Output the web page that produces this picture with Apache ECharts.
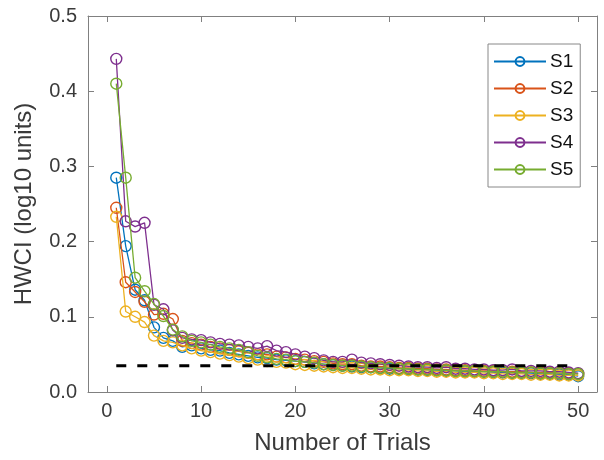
<!DOCTYPE html>
<html>
<head>
<meta charset="utf-8">
<script src="https://cdn.jsdelivr.net/npm/echarts@6/dist/echarts.min.js"></script>
<style>
  html, body { margin: 0; padding: 0; background: #fff; }
  #chart-container { width: 604px; height: 460px; }
</style>
</head>
<body>
<div id="chart-container"></div>
<script>
// Trials 1..50
const trials = Array.from({ length: 50 }, (_, i) => i + 1);

// HWCI values (log10 units)
const s1 = [0.285, 0.194, 0.136, 0.122, 0.086, 0.072, 0.068, 0.060, 0.062, 0.058,
  0.056, 0.055, 0.052, 0.050, 0.048, 0.046, 0.045, 0.043, 0.042, 0.041,
  0.040, 0.038, 0.037, 0.036, 0.035, 0.034, 0.033, 0.033, 0.032, 0.031,
  0.031, 0.030, 0.030, 0.029, 0.029, 0.028, 0.028, 0.027, 0.027, 0.027,
  0.026, 0.026, 0.025, 0.025, 0.025, 0.024, 0.024, 0.023, 0.023, 0.021];
const s2 = [0.245, 0.146, 0.133, 0.120, 0.103, 0.104, 0.097, 0.068, 0.065, 0.063,
  0.060, 0.058, 0.056, 0.054, 0.052, 0.050, 0.050, 0.047, 0.046, 0.044,
  0.043, 0.041, 0.040, 0.038, 0.037, 0.037, 0.035, 0.034, 0.034, 0.033,
  0.032, 0.032, 0.031, 0.031, 0.030, 0.030, 0.029, 0.029, 0.028, 0.028,
  0.028, 0.027, 0.027, 0.027, 0.026, 0.026, 0.026, 0.025, 0.025, 0.024];
const s3 = [0.233, 0.107, 0.100, 0.093, 0.075, 0.068, 0.066, 0.062, 0.058, 0.055,
  0.053, 0.051, 0.049, 0.047, 0.045, 0.043, 0.041, 0.040, 0.039, 0.037,
  0.036, 0.035, 0.034, 0.033, 0.032, 0.032, 0.031, 0.030, 0.030, 0.029,
  0.029, 0.029, 0.028, 0.028, 0.027, 0.027, 0.026, 0.026, 0.026, 0.025,
  0.025, 0.024, 0.024, 0.024, 0.023, 0.023, 0.023, 0.022, 0.022, 0.022];
const s4 = [0.443, 0.227, 0.220, 0.225, 0.116, 0.110, 0.082, 0.072, 0.070, 0.069,
  0.066, 0.064, 0.063, 0.062, 0.060, 0.058, 0.061, 0.055, 0.053, 0.050,
  0.047, 0.045, 0.042, 0.040, 0.040, 0.043, 0.039, 0.038, 0.037, 0.036,
  0.035, 0.034, 0.033, 0.033, 0.032, 0.033, 0.031, 0.031, 0.030, 0.030,
  0.029, 0.029, 0.030, 0.028, 0.028, 0.028, 0.027, 0.027, 0.026, 0.025];
const s5 = [0.410, 0.285, 0.152, 0.134, 0.117, 0.101, 0.083, 0.074, 0.068, 0.066,
  0.063, 0.060, 0.058, 0.056, 0.053, 0.048, 0.046, 0.044, 0.043, 0.041,
  0.040, 0.039, 0.037, 0.036, 0.035, 0.035, 0.034, 0.033, 0.032, 0.032,
  0.031, 0.031, 0.030, 0.030, 0.029, 0.029, 0.028, 0.028, 0.028, 0.027,
  0.027, 0.027, 0.026, 0.026, 0.026, 0.025, 0.025, 0.025, 0.024, 0.024];

// Reference level (black dashed line)
const refX = [1, 50];
const refY = [0.035, 0.035];

const seriesNames = ["S1", "S2", "S3", "S4", "S5"];
const seriesValues = [s1, s2, s3, s4, s5];
const colors = ["#0072BD", "#D95319", "#EDB120", "#7E2F8E", "#77AC30"];

const xTicks = [0, 10, 20, 30, 40, 50];
const axisColor = "#3a3a3a";
const lineColor = "#808080";
const fontFamily = "Liberation Sans, Arial, sans-serif";

const chart = echarts.init(document.getElementById("chart-container"), null, { renderer: "canvas" });

const series = seriesNames.map((name, k) => ({
  name: name,
  type: "line",
  data: trials.map((t, i) => [t, seriesValues[k][i]]),
  symbol: "circle",
  symbolSize: 11,
  showSymbol: true,
  lineStyle: { color: colors[k], width: 1.3 },
  itemStyle: { color: "rgba(255,255,255,0)", borderColor: colors[k], borderWidth: 1.4 },
  emphasis: { disabled: true },
  animation: false,
  z: 2 + k,
}));

series.push({
  name: "ref",
  type: "line",
  data: refX.map((x, i) => [x, refY[i]]),
  symbol: "none",
  lineStyle: { color: "#000", width: 3, type: [10, 11] },
  emphasis: { disabled: true },
  animation: false,
  z: 10,
});

const option = {
  backgroundColor: "#fff",
  animation: false,
  grid: { left: 88, right: 7, top: 16, bottom: 65, containLabel: false },
  legend: {
    data: seriesNames,
    orient: "vertical",
    left: 488,
    top: 44,
    padding: [8, 7, 8, 5],
    itemGap: 8,
    itemWidth: 52,
    itemHeight: 11,
    borderColor: "#888",
    borderWidth: 1,
    backgroundColor: "#fff",
    textStyle: { fontFamily: fontFamily, fontSize: 19, color: "#111", lineHeight: 19, padding: [0, 0, 0, -1] },
  },
  xAxis: [
    {
      type: "value",
      min: -2,
      max: 52,
      name: "Number of Trials",
      nameLocation: "middle",
      nameGap: 39,
      nameTextStyle: { fontFamily: fontFamily, fontSize: 24, color: axisColor },
      axisLine: { show: true, onZero: false, lineStyle: { color: lineColor, width: 1 } },
      axisTick: { show: true, inside: true, length: 6, customValues: xTicks, lineStyle: { color: lineColor } },
      axisLabel: { customValues: xTicks, fontFamily: fontFamily, fontSize: 20, color: axisColor, margin: 9 },
      splitLine: { show: false },
    },
    {
      type: "value",
      position: "top",
      min: -2,
      max: 52,
      axisLine: { show: true, onZero: false, lineStyle: { color: lineColor, width: 1 } },
      axisTick: { show: true, inside: true, length: 6, customValues: xTicks, lineStyle: { color: lineColor } },
      axisLabel: { show: false },
      splitLine: { show: false },
    },
  ],
  yAxis: [
    {
      type: "value",
      min: 0,
      max: 0.5,
      interval: 0.1,
      name: "HWCI (log10 units)",
      nameLocation: "middle",
      nameGap: 52,
      nameTextStyle: { fontFamily: fontFamily, fontSize: 24, color: axisColor },
      axisLine: { show: true, onZero: false, lineStyle: { color: lineColor, width: 1 } },
      axisTick: { show: true, inside: true, length: 6, lineStyle: { color: lineColor } },
      axisLabel: {
        fontFamily: fontFamily, fontSize: 20, color: axisColor, margin: 11,
        formatter: (v) => v.toFixed(1),
      },
      splitLine: { show: false },
    },
    {
      type: "value",
      position: "right",
      min: 0,
      max: 0.5,
      interval: 0.1,
      axisLine: { show: true, onZero: false, lineStyle: { color: lineColor, width: 1 } },
      axisTick: { show: true, inside: true, length: 6, lineStyle: { color: lineColor } },
      axisLabel: { show: false },
      splitLine: { show: false },
    },
  ],
  series: series,
};

chart.setOption(option);
</script>
</body>
</html>
